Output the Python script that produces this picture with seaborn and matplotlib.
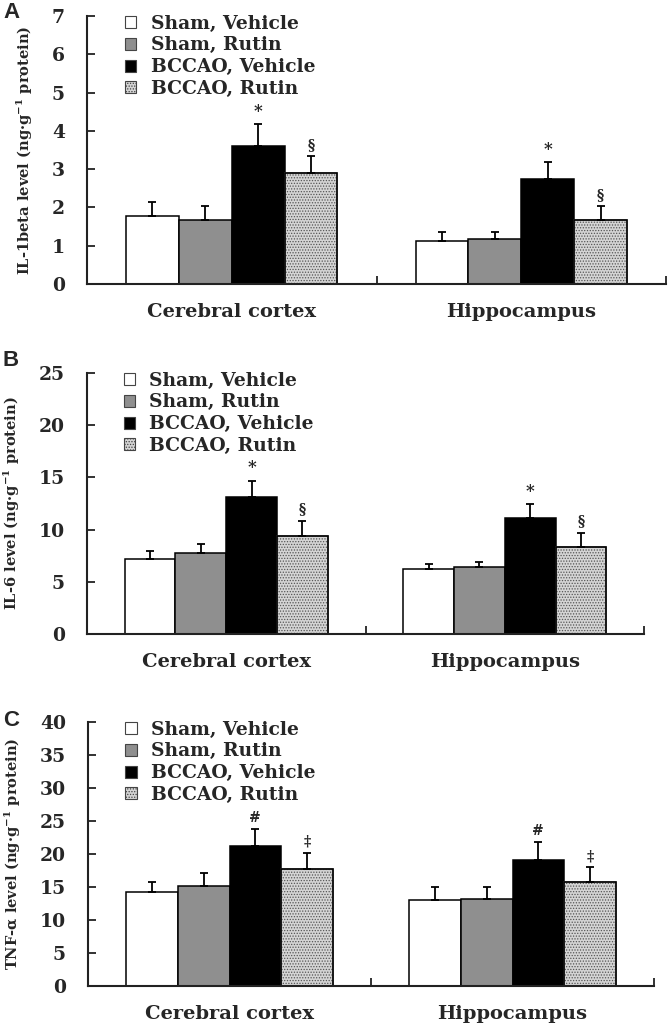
import numpy as np
import pandas as pd
import matplotlib
matplotlib.use("Agg")
import matplotlib.pyplot as plt
import seaborn as sns

regions = ["Cerebral cortex", "Hippocampus"]
groups = ["Sham, Vehicle", "Sham, Rutin", "BCCAO, Vehicle", "BCCAO, Rutin"]

# values: [group][region]
il1b_mean = [[1.77, 1.13], [1.67, 1.17], [3.60, 2.74], [2.91, 1.67]]
il1b_err = [[0.36, 0.23], [0.36, 0.19], [0.57, 0.44], [0.43, 0.36]]
il6_mean = [[7.19, 6.20], [7.74, 6.46], [13.17, 11.09], [9.43, 8.34]]
il6_err = [[0.80, 0.48], [0.86, 0.48], [1.53, 1.38], [1.44, 1.38]]
tnf_mean = [[14.17, 13.00], [15.13, 13.20], [21.18, 19.16], [17.70, 15.73]]
tnf_err = [[1.63, 1.98], [1.97, 1.78], [2.62, 2.62], [2.47, 2.27]]

marks_ab = ["", "", "*", "§"]
marks_c = ["", "", "#", "‡"]

ylabels = ["IL-1beta level (ng·g$^{-1}$ protein)",
           "IL-6 level (ng·g$^{-1}$ protein)",
           "TNF-α level (ng·g$^{-1}$ protein)"]
ylims = [(0, 7, 1), (0, 25, 5), (0, 40, 5)]
panel_letters = ["A", "B", "C"]

colors = ["#ffffff", "#8f8f8f", "#000000", "#d4d4d4"]

sns.set_theme(style="white")
plt.rcParams["font.family"] = ["DejaVu Serif"]
plt.rcParams["font.weight"] = "bold"
plt.rcParams["mathtext.fontset"] = "custom"
plt.rcParams["mathtext.rm"] = "DejaVu Serif:bold"
plt.rcParams["mathtext.it"] = "DejaVu Serif:bold"
plt.rcParams["mathtext.bf"] = "DejaVu Serif:bold"
plt.rcParams["hatch.linewidth"] = 0.6

fig = plt.figure(figsize=(6.7, 10.3), dpi=100)
W, H = 670.0, 1030.0
# axes pixel boxes (left, right, top, bottom)
boxes = [(87, 666, 16, 284), (87, 644, 373, 634), (88, 654, 722, 986)]
letter_pos = [(3, 2), (3, 350), (3, 710)]

datasets = [(il1b_mean, il1b_err, marks_ab),
            (il6_mean, il6_err, marks_ab),
            (tnf_mean, tnf_err, marks_c)]

for k, ((means, errs, marks), (l, r, t, b)) in enumerate(zip(datasets, boxes)):
    ax = fig.add_axes([l / W, 1 - b / H, (r - l) / W, (b - t) / H])
    rows = []
    for gi, g in enumerate(groups):
        for ri, reg in enumerate(regions):
            rows.append({"region": reg, "group": g, "value": means[gi][ri]})
    df = pd.DataFrame(rows)
    sns.barplot(data=df, x="region", y="value", hue="group", order=regions,
                hue_order=groups, palette=colors, width=0.73, saturation=1,
                edgecolor="black", linewidth=1.1, errorbar=None, ax=ax,
                legend=False)
    bar_conts = list(ax.containers)
    for gi, cont in enumerate(bar_conts):
        for ri, bar in enumerate(cont.patches):
            if gi == 3:
                bar.set_hatch("......")
                bar.set_edgecolor("#555555")
            xc = bar.get_x() + bar.get_width() / 2
            top = bar.get_height()
            e = errs[gi][ri]
            ax.errorbar([xc], [top], yerr=[[0], [e]], fmt="none",
                        ecolor="black", elinewidth=1.3, capsize=3,
                        capthick=1.3, zorder=3)
            if marks[gi]:
                fs = 12 if marks[gi] == "*" else 10
                ax.annotate(marks[gi], (xc, top + e), xytext=(0, 3),
                            textcoords="offset points", ha="center",
                            va="bottom", fontsize=fs, fontweight="bold")
            if gi == 3:
                ax.add_patch(plt.Rectangle((bar.get_x(), 0), bar.get_width(),
                                           top, fill=False, edgecolor="black",
                                           linewidth=1.1, zorder=2.5))
    lo, hi, st = ylims[k]
    ax.set_ylim(lo, hi)
    ax.set_yticks(np.arange(lo, hi + st / 2, st))
    ax.set_xlim(-0.5, 1.5)
    ax.set_xlabel("")
    ax.set_ylabel(ylabels[k], fontsize=10.5, fontweight="bold", labelpad=12)
    for s in ["top", "right"]:
        ax.spines[s].set_visible(False)
    for s in ["left", "bottom"]:
        ax.spines[s].set_color("#222222")
        ax.spines[s].set_linewidth(1.5)
    ax.tick_params(axis="y", direction="in", length=6, width=1.3,
                   left=True, pad=16, labelsize=13.5, color="#222222")
    ax.tick_params(axis="x", which="major", length=0, pad=14, labelsize=14)
    ax.set_xticks([0.5, 1.5], minor=True)
    ax.tick_params(axis="x", which="minor", direction="in", length=6,
                   width=1.3, bottom=True, color="#222222")
    for lab in ax.get_xticklabels() + ax.get_yticklabels():
        lab.set_fontweight("bold")
    handles = [plt.Rectangle((0, 0), 1, 1, facecolor=colors[i],
                             edgecolor="#444444", linewidth=0.8,
                             hatch=("......" if i == 3 else None))
               for i in range(len(groups))]
    ax.legend(handles, groups, loc="upper left", bbox_to_anchor=(0.066, 1.005),
              frameon=False, handlelength=0.6,
              handleheight=0.6, handletextpad=0.75, labelspacing=0.2,
              borderpad=0, borderaxespad=0,
              prop={"weight": "bold", "size": 13.5})
    fig.text(letter_pos[k][0] / W, 1 - letter_pos[k][1] / H, panel_letters[k],
             fontsize=16, family="Liberation Sans", ha="left", va="top")

fig.savefig("out.png", dpi=100)
